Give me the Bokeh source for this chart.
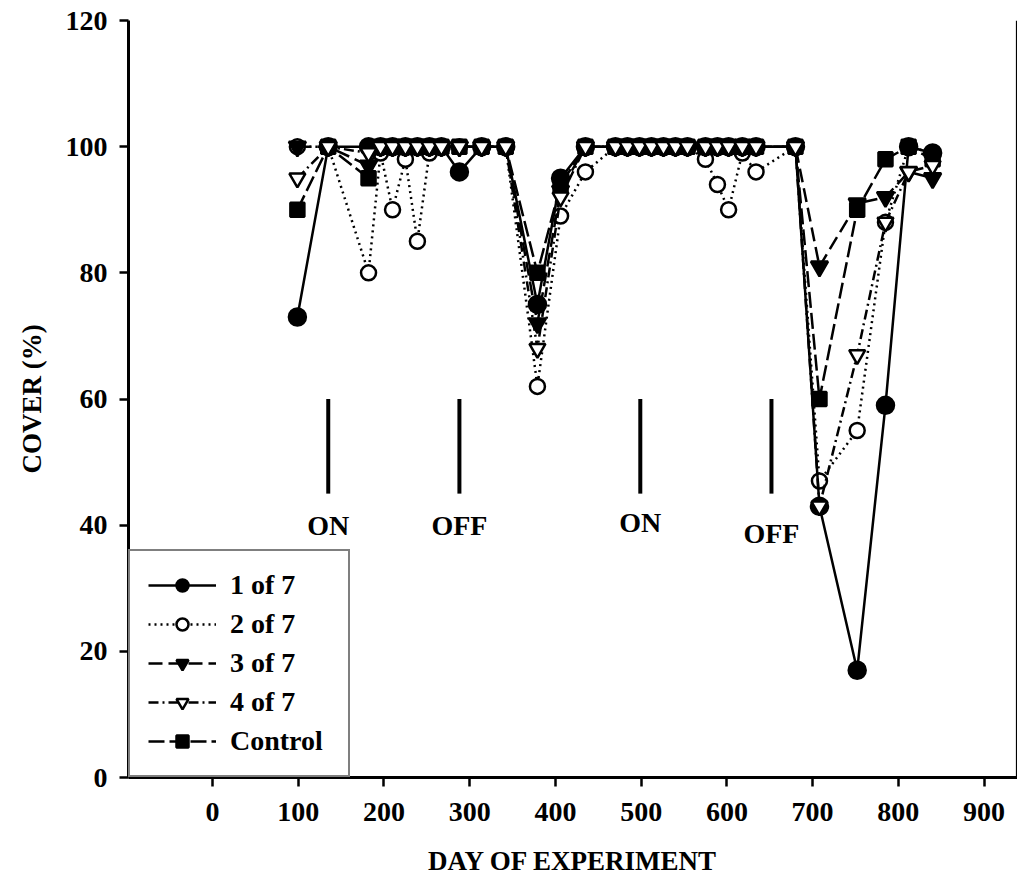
from bokeh.plotting import figure
from bokeh.models import Legend, LegendItem, Range1d, FixedTicker, Span
from bokeh.core.properties import value
from bokeh.embed import file_html
from bokeh.resources import INLINE

# ---- data ----
days = [99, 135, 182, 196, 210, 225, 239, 253, 267, 288, 314, 342, 379, 406, 435,
        470, 484, 498, 512, 526, 540, 554, 575, 589, 602, 618, 634,
        680, 708, 752, 785, 812, 840]

one_of_7 = [73, 100, 100, 100, 100, 100, 100, 100, 100, 96, 100, 100, 75, 95, 100,
            100, 100, 100, 100, 100, 100, 100, 100, 100, 100, 100, 100,
            100, 43, 17, 59, 100, 99]
two_of_7 = [100, 100, 80, 99, 90, 98, 85, 99, 100, 100, 100, 100, 62, 89, 96,
            100, 100, 100, 100, 100, 100, 100, 98, 94, 90, 99, 96,
            100, 47, 55, 88, 100, 99]
three_of_7 = [100, 100, 97, 100, 100, 100, 100, 100, 100, 100, 100, 100, 72, 93, 100,
              100, 100, 100, 100, 100, 100, 100, 100, 100, 100, 100, 100,
              100, 81, 91, 92, 96, 95]
four_of_7 = [95, 100, 99, 100, 100, 100, 100, 100, 100, 100, 100, 100, 68, 92, 100,
             100, 100, 100, 100, 100, 100, 100, 100, 100, 100, 100, 100,
             100, 43, 67, 88, 96, 97]
control = [90, 100, 95, 100, 100, 100, 100, 100, 100, 100, 100, 100, 80, 94, 100,
           100, 100, 100, 100, 100, 100, 100, 100, 100, 100, 100, 100,
           100, 60, 90, 98, 100, 98]

switch_days = [135, 288, 499, 652]
switch_labels = ["ON", "OFF", "ON", "OFF"]
switch_label_y = [40, 40, 40.5, 38.7]
switch_top = 60
switch_bottom = 45

x_ticks = [0, 100, 200, 300, 400, 500, 600, 700, 800, 900]
y_ticks = [0, 20, 40, 60, 80, 100, 120]

FONT = "Liberation Serif"

p = figure(width=1017, height=887,
           x_range=Range1d(-98, 939), y_range=Range1d(0, 120),
           output_backend="svg", toolbar_location=None,
           min_border_left=128, min_border_right=0,
           min_border_top=20, min_border_bottom=110)
p.xgrid.visible = False
p.ygrid.visible = False
p.outline_line_color = None
p.background_fill_color = "white"

for ax in (p.xaxis[0], p.yaxis[0]):
    ax.axis_line_width = 3
    ax.axis_line_color = "black"
    ax.major_tick_line_width = 2.5
    ax.major_tick_line_color = "black"
    ax.major_tick_out = 9
    ax.major_tick_in = 0
    ax.minor_tick_out = 0
    ax.minor_tick_in = 0
    ax.major_label_text_font = FONT
    ax.major_label_text_font_style = "bold"
    ax.major_label_text_font_size = "28px"
    ax.major_label_text_color = "black"
    ax.axis_label_text_font = FONT
    ax.axis_label_text_font_style = "bold"
    ax.axis_label_text_font_size = "27px"
    ax.axis_label_text_color = "black"

p.xaxis.ticker = FixedTicker(ticks=x_ticks)
p.yaxis.ticker = FixedTicker(ticks=y_ticks)
p.xaxis.axis_label = "DAY OF EXPERIMENT"
p.yaxis.axis_label = "COVER (%)"
p.xaxis.major_label_standoff = 16
p.xaxis.axis_label_standoff = 22
p.yaxis.major_label_standoff = 12
p.yaxis.axis_label_standoff = 16

p.add_layout(Span(location=938, dimension="height", line_color="black", line_width=1.5))

# ON / OFF markers
p.segment(x0=switch_days, y0=[switch_top] * 4, x1=switch_days, y1=[switch_bottom] * 4,
          line_color="black", line_width=4)
p.text(x=switch_days, y=switch_label_y, text=switch_labels,
       text_align="center", text_baseline="middle",
       text_font=value(FONT), text_font_style="bold", text_font_size="28px",
       text_color="black")

series = {}

def draw(key, ys, dash, marker, fill, size):
    ln = p.line(days, ys, line_color="black", line_width=2.5, line_dash=dash)
    mk = p.scatter(days, ys, marker=marker, size=size, line_color="black",
                   line_width=2.5, fill_color=fill)
    series[key] = [ln, mk]

draw("2 of 7", two_of_7, "dotted", "circle", "white", 15)
draw("1 of 7", one_of_7, "solid", "circle", "black", 17)
draw("control", control, "16 5", "square", "black", 14)
draw("3 of 7", three_of_7, "14 6", "inverted_triangle", "black", 17)
draw("4 of 7", four_of_7, "10 4 2 4", "inverted_triangle", "white", 16)

legend = Legend(items=[
    LegendItem(label="1 of 7", renderers=series["1 of 7"]),
    LegendItem(label="2 of 7", renderers=series["2 of 7"]),
    LegendItem(label="3 of 7", renderers=series["3 of 7"]),
    LegendItem(label="4 of 7", renderers=series["4 of 7"]),
    LegendItem(label="Control", renderers=series["control"]),
], location="bottom_left", margin=0, padding=18, spacing=7,
    glyph_width=68, glyph_height=30, label_height=30, label_width=100,
    label_standoff=14, label_text_font=FONT, label_text_font_style="bold",
    label_text_font_size="28px", label_text_color="black",
    border_line_color="black", border_line_width=2.5,
    background_fill_color="white", background_fill_alpha=1)
p.add_layout(legend)

open("out.html", "w").write(file_html(p, INLINE))
